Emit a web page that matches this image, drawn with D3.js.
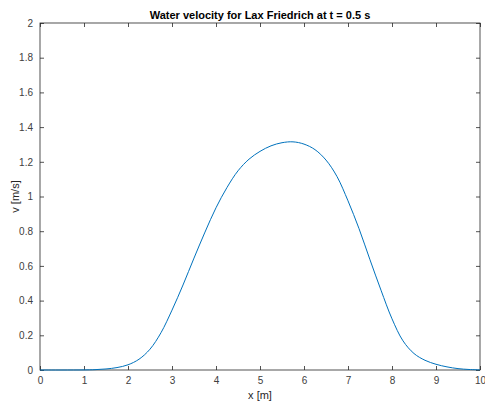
<!DOCTYPE html>
<html><head><meta charset="utf-8">
<script src="https://cdn.jsdelivr.net/npm/d3@7"></script>
<style>body{margin:0;background:#fff}svg{display:block}</style>
</head><body>
<script>
const xValues = [0,0.5,1,1.25,1.5,1.75,2,2.25,2.5,2.75,3,3.25,3.5,3.75,4,4.25,4.5,4.75,5,5.25,5.5,5.75,6,6.25,6.5,6.75,7,7.25,7.5,7.75,8,8.25,8.5,8.75,9,9.25,9.5,9.75,10];
const vValues = [0,0,0.0005,0.002,0.006,0.014,0.03,0.062,0.12,0.215,0.345,0.49,0.645,0.795,0.935,1.052,1.148,1.215,1.26,1.292,1.31,1.315,1.302,1.27,1.21,1.115,0.975,0.815,0.635,0.46,0.295,0.168,0.095,0.056,0.033,0.018,0.008,0.003,0.001];
const xTicks = [0,1,2,3,4,5,6,7,8,9,10];
const yTicks = [0,0.2,0.4,0.6,0.8,1,1.2,1.4,1.6,1.8,2];
const titleText = "Water velocity for Lax Friedrich at t = 0.5 s";
const xLabel = "x [m]";
const yLabel = "v [m/s]";

const W = 485, H = 406;
const m = {left:40, right:5, top:23, bottom:36};
const svg = d3.select("body").append("svg").attr("width",W).attr("height",H);
const x = d3.scaleLinear().domain([0,10]).range([m.left, W-m.right]);
const y = d3.scaleLinear().domain([0,2]).range([H-m.bottom, m.top]);
const axisColor = "#262626";
const font = "'Liberation Sans', Arial, Helvetica, sans-serif";

function styleAxis(g){
  g.select(".domain").remove();
  g.selectAll(".tick line").attr("stroke", axisColor).attr("stroke-width",0.8);
  g.selectAll(".tick text").attr("fill", "#404040").attr("font-family", font).attr("font-size", "10px");
}
const tl = 4;
svg.append("g").attr("transform",`translate(0,${y(0)})`)
  .call(d3.axisBottom(x).tickValues(xTicks).tickFormat(d3.format("d")).tickSizeInner(-tl).tickSizeOuter(0).tickPadding(7))
  .call(styleAxis);
svg.append("g").attr("transform",`translate(0,${y(2)})`)
  .call(d3.axisTop(x).tickValues(xTicks).tickFormat("").tickSizeInner(-tl).tickSizeOuter(0))
  .call(styleAxis);
svg.append("g").attr("transform",`translate(${x(0)},0)`)
  .call(d3.axisLeft(y).tickValues(yTicks).tickFormat(d=>d3.format("")(+d.toFixed(1))).tickSizeInner(-tl).tickSizeOuter(0).tickPadding(7))
  .call(styleAxis);
svg.append("g").attr("transform",`translate(${x(10)},0)`)
  .call(d3.axisRight(y).tickValues(yTicks).tickFormat("").tickSizeInner(-tl).tickSizeOuter(0))
  .call(styleAxis);

svg.append("rect").attr("x",x(0)).attr("y",y(2)).attr("width",x(10)-x(0)).attr("height",y(0)-y(2))
  .attr("fill","none").attr("stroke",axisColor).attr("stroke-width",0.8);

const data = xValues.map((d,i)=>[d, vValues[i]]);
svg.append("path").datum(data)
  .attr("fill","none").attr("stroke","#0072BD").attr("stroke-width",1)
  .attr("d", d3.line().x(d=>x(d[0])).y(d=>y(d[1])).curve(d3.curveCatmullRom.alpha(0.5)));

svg.append("text").attr("x",(x(0)+x(10))/2).attr("y",19).attr("text-anchor","middle")
  .attr("font-family",font).attr("font-size","11px").attr("font-weight","bold").attr("fill","#000").text(titleText);
svg.append("text").attr("x",(x(0)+x(10))/2).attr("y",399).attr("text-anchor","middle")
  .attr("font-family",font).attr("font-size","11px").attr("fill",axisColor).text(xLabel);
svg.append("text").attr("transform",`translate(19,${(y(0)+y(2))/2}) rotate(-90)`).attr("text-anchor","middle")
  .attr("font-family",font).attr("font-size","11px").attr("fill",axisColor).text(yLabel);
</script>
</body></html>
